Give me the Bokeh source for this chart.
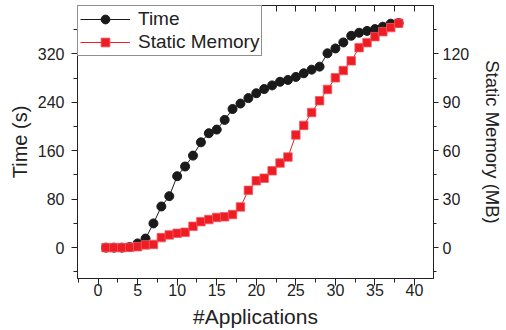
from bokeh.plotting import figure
from bokeh.models import Range1d, LinearAxis, FixedTicker, CustomLabelingPolicy
from bokeh.embed import file_html
from bokeh.resources import INLINE

apps = list(range(1, 39))
time_s = [0, 0, 0, 1, 7, 15, 40, 68, 85, 118, 134, 152, 174, 189, 195, 211, 229, 238,
          247, 255, 262, 268, 274, 277, 282, 288, 294, 299, 321, 329, 339, 350, 355,
          358, 361, 365, 370, 371]
mem_mb = [0, 0, 0, 0.2, 0.6, 1.7, 2, 6.2, 7.9, 8.9, 9.5, 13.2, 16.1, 17.4, 18.7, 19.1,
          20.5, 25.2, 35.5, 41.4, 43, 47.6, 52.4, 56.1, 69.8, 75.7, 83.7, 91, 98, 105.2,
          109.7, 115.7, 123.9, 127, 130.7, 133.8, 136.3, 139]

x_major = [0, 5, 10, 15, 20, 25, 30, 35, 40]
x_minor = [-2.5, 2.5, 7.5, 12.5, 17.5, 22.5, 27.5, 32.5, 37.5, 42.5]
x_top = [-2.5, 0, 2.5, 5, 7.5, 10, 12.5, 15, 17.5, 20, 22.5, 25, 27.5, 30, 32.5, 35, 37.5, 40, 42.5]
yl_major = [0, 80, 160, 240, 320]
yl_minor = [-40, 40, 120, 200, 280, 360]
yr_major = [0, 30, 60, 90, 120]
yr_minor = [-15, 15, 45, 75, 105, 135]

FONT = "Liberation Sans"
TXT = "#222222"

p = figure(width=506, height=330, output_backend="svg", toolbar_location=None,
           x_range=Range1d(-2.6, 42.4), y_range=Range1d(-51, 400),
           min_border_left=77, min_border_right=61, min_border_top=5, min_border_bottom=52,
           x_axis_label="#Applications", y_axis_label="Time (s)")
p.extra_y_ranges = {"mem": Range1d(-19.125, 150)}
p.xgrid.visible = False
p.ygrid.visible = False
p.outline_line_color = "#222222"
p.outline_line_width = 1

# data
p.line(apps, time_s, line_color="#1a1a1a", line_width=1, legend_label="Time")
p.scatter(apps, time_s, marker="circle", size=9, fill_color="#1a1a1a",
          line_color="#1a1a1a", legend_label="Time")
p.line(apps, mem_mb, line_color="#ee1c25", line_width=1, legend_label="Static Memory",
       y_range_name="mem")
p.scatter(apps, mem_mb, marker="square", size=8.5, fill_color="#ee1c25",
          line_color="#f25a60", line_width=0.8, legend_label="Static Memory",
          y_range_name="mem")

def style_axis(ax, major, minor, tick_out=6, minor_out=3):
    ax.ticker = FixedTicker(ticks=major, minor_ticks=minor)
    ax.major_tick_out = tick_out
    ax.major_tick_in = 0
    ax.minor_tick_out = minor_out
    ax.minor_tick_in = 0
    ax.axis_line_color = "#222222"
    ax.major_tick_line_color = "#222222"
    ax.minor_tick_line_color = "#222222"
    ax.major_label_text_font = FONT
    ax.major_label_text_font_size = "16px"
    ax.major_label_text_color = TXT
    ax.axis_label_text_font = FONT
    ax.axis_label_text_font_size = "20px"
    ax.axis_label_text_font_style = "normal"
    ax.axis_label_text_color = TXT

xa = p.xaxis[0]
style_axis(xa, x_major, x_minor, 7, 4)
xa.axis_label_text_font_size = "21px"
xa.major_label_standoff = -2
xa.axis_label_standoff = 6

ya = p.yaxis[0]
style_axis(ya, yl_major, yl_minor, 6, 4)
ya.major_label_standoff = 7
ya.axis_label_standoff = 4

ra = LinearAxis(y_range_name="mem", axis_label="Static Memory (MB)")
style_axis(ra, yr_major, yr_minor, 5, 3)
ra.axis_label_text_font_size = "18.5px"
ra.major_label_standoff = 4
ra.axis_label_standoff = 10
p.add_layout(ra, "right")

ta = LinearAxis()
ta.ticker = FixedTicker(ticks=x_top, minor_ticks=[])
ta.major_tick_in = 6
ta.major_tick_out = 0
ta.major_label_policy = CustomLabelingPolicy(code="return []")
ta.major_label_text_font_size = "0px"
ta.major_label_standoff = 0
ta.axis_label_standoff = 0
ta.axis_line_color = "#222222"
ta.major_tick_line_color = "#222222"
p.add_layout(ta, "above")

lg = p.legend[0]
lg.location = "top_left"
lg.margin = 0
lg.padding = 2
lg.spacing = 1
lg.glyph_width = 50
lg.glyph_height = 22
lg.label_height = 22
lg.label_standoff = 8
lg.label_text_font = FONT
lg.label_text_font_size = "19px"
lg.label_text_color = TXT
lg.border_line_color = "#222222"
lg.border_line_width = 1
lg.background_fill_alpha = 1

open("out.html", "w").write(file_html(p, INLINE))
